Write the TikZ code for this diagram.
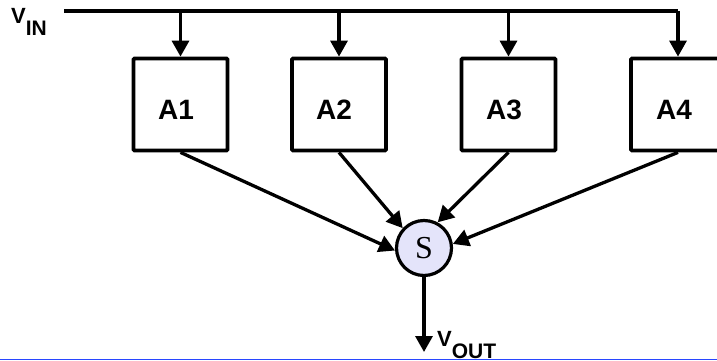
\documentclass[tikz,border=0pt]{standalone}
\usepackage{fontspec}
\setmainfont{Liberation Sans}
\newfontfamily\serifS{Liberation Serif}
\usetikzlibrary{arrows.meta}
\definecolor{sumfill}{RGB}{228,228,250}
\definecolor{baseblue}{RGB}{40,70,255}
\begin{document}
\begin{tikzpicture}[x=1pt,y=-1pt,
  wire/.style={line width=3.3pt},
  arr/.style={wire,-{Triangle[length=16pt,width=17pt]}},
  ampbox/.style={draw,line width=3.8pt,rounded corners=1pt,minimum width=94pt,minimum height=92pt,inner sep=0pt},
  amplabel/.style={font=\fontsize{28}{28}\selectfont\bfseries}
]
\useasboundingbox (0,0) rectangle (717,361);
% amplifier boxes
\node[ampbox] (A1) at (180.5,104.5) {};
\node[ampbox] (A2) at (339,104.5) {};
\node[ampbox] (A3) at (508.5,104.5) {};
\node[ampbox] (A4) at (678,104.5) {};
\node[amplabel] (L1) at (176,110) {A1};
\node[amplabel] (L2) at (334,110) {A2};
\node[amplabel] (L3) at (504,110) {A3};
\node[amplabel] (L4) at (674,110) {A4};
% input bus
\coordinate (bin) at (64,11);
\coordinate (b1) at (180.5,11);
\coordinate (b2) at (339,11);
\coordinate (b3) at (508.5,11);
\coordinate (b4) at (678,11);
\draw[wire] (bin) -- (b4);
\draw[arr] (b1) -- (A1.north);
\draw[arr] (b2) -- (A2.north);
\draw[arr] (b3) -- (A3.north);
\draw[arr] (b4) -- (A4.north);
% summing node
\node[circle,draw,line width=3.2pt,fill=sumfill,minimum size=55pt,inner sep=0pt,
      font=\serifS\fontsize{32}{32}\selectfont] (S) at (424,248) {S};
\draw[arr] (A1.south) -- (S.185);
\draw[arr] (A2.south) -- (S.137);
\draw[arr] (A3.south) -- (S.62);
\draw[arr] (A4.south) -- (S.8);
% output
\coordinate (out) at (424,352);
\draw[arr] (S.south) -- (out);
% labels
\node[anchor=base west,inner sep=0pt,font=\bfseries\fontsize{22}{22}\selectfont] (vin) at (11,24)
  {V\raisebox{-12pt}{\fontsize{21}{21}\selectfont IN}};
\node[anchor=base west,inner sep=0pt,font=\bfseries\fontsize{22}{22}\selectfont] (vout) at (437,346)
  {V\raisebox{-12pt}{\fontsize{21}{21}\selectfont OUT}};
% baseline
\coordinate (bl) at (0,359.7);
\coordinate (br) at (717,359.7);
\draw[baseblue,line width=1.5pt] (bl) -- (br);
\end{tikzpicture}
\end{document}
